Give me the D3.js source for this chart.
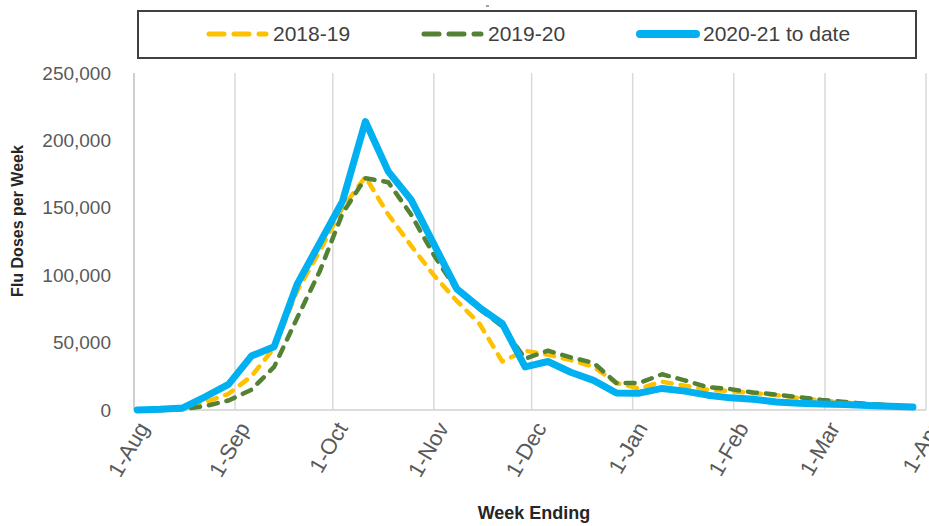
<!DOCTYPE html>
<html>
<head>
<meta charset="utf-8">
<script src="https://cdn.jsdelivr.net/npm/d3@7"></script>
<style>
  html, body { margin: 0; padding: 0; background: #fff; }
  text { font-family: "Liberation Sans", Arial, sans-serif; }
</style>
</head>
<body>
<svg id="chart" width="929" height="526"></svg>
<script>
// ---- data ----
const weeks = ["2020-08-02","2020-08-09","2020-08-16","2020-08-23","2020-08-30","2020-09-06","2020-09-13","2020-09-20","2020-09-27","2020-10-04","2020-10-11","2020-10-18","2020-10-25","2020-11-01","2020-11-08","2020-11-15","2020-11-22","2020-11-29","2020-12-06","2020-12-13","2020-12-20","2020-12-27","2021-01-03","2021-01-10","2021-01-17","2021-01-24","2021-01-31","2021-02-07","2021-02-14","2021-02-21","2021-02-28","2021-03-07","2021-03-14","2021-03-21","2021-03-28"];
const s2018 = [0,0,1000,6000,12000,25000,46000,88000,118000,150000,173000,145000,122000,100000,81000,64000,36000,44000,41000,37000,32000,20000,16000,21000,18000,15000,14000,12500,11000,9000,7000,5500,4500,3500,2500];
const s2019 = [0,0,500,3000,7000,15000,32000,68000,103000,146000,172000,169000,145000,115000,89000,75000,62000,38000,44000,39000,35000,20000,20000,26500,22000,17000,15500,13000,11500,9500,7500,6000,4500,3500,2500];
const s2020 = [0,500,1500,10000,19000,40000,47000,93000,124000,155000,214000,177000,156000,123000,90000,76000,64000,32000,36000,28000,22000,12600,12500,16000,14000,11000,9000,8000,6000,5000,4500,4000,3300,2800,2200];
const seriesNames = ["2018-19","2019-20","2020-21 to date"];
const yTicks = [0,50000,100000,150000,200000,250000];
const xTickDates = ["2020-08-01","2020-09-01","2020-10-01","2020-11-01","2020-12-01","2021-01-01","2021-02-01","2021-03-01","2021-04-01"];
const xTickLabels = ["1-Aug","1-Sep","1-Oct","1-Nov","1-Dec","1-Jan","1-Feb","1-Mar","1-Apr"];

// ---- layout ----
const svg = d3.select("#chart");
const parse = d3.timeParse("%Y-%m-%d");
const L = 134, R = 926, T = 73, B = 410;
const x = d3.scaleTime().domain([parse("2020-08-01"), parse("2021-04-01")]).range([L, R]);
const y = d3.scaleLinear().domain([0, 250000]).range([B, T]);

// vertical gridlines
svg.append("g").selectAll("line").data(xTickDates.slice(1)).join("line")
  .attr("x1", d => x(parse(d))).attr("x2", d => x(parse(d)))
  .attr("y1", T).attr("y2", B)
  .attr("stroke", "#d9d9d9").attr("stroke-width", 1.5);

// axes lines
svg.append("line").attr("x1", L).attr("x2", L).attr("y1", T).attr("y2", B)
  .attr("stroke", "#bfbfbf").attr("stroke-width", 1.5);
svg.append("line").attr("x1", L).attr("x2", R).attr("y1", B).attr("y2", B)
  .attr("stroke", "#d0d0d0").attr("stroke-width", 1.5);

// y tick labels
const fmt = d3.format(",");
svg.append("g").selectAll("text").data(yTicks).join("text")
  .attr("x", 111).attr("y", d => y(d)).attr("dy", "0.35em")
  .attr("text-anchor", "end").attr("font-size", 19).attr("fill", "#595959")
  .text(d => fmt(d));

// x tick labels
svg.append("g").selectAll("text").data(xTickDates).join("text")
  .attr("transform", (d) => `translate(${x(parse(d)) + 9},${424}) rotate(-60)`)
  .attr("text-anchor", "end").attr("dy", "0.35em")
  .attr("font-size", 22).attr("fill", "#595959")
  .text((d, i) => xTickLabels[i]);

// axis titles
svg.append("text").attr("transform", "translate(23,221) rotate(-90)")
  .attr("text-anchor", "middle").attr("font-size", 16).attr("font-weight", "bold")
  .attr("fill", "#262626").text("Flu Doses per Week");
svg.append("text").attr("x", 534).attr("y", 519)
  .attr("text-anchor", "middle").attr("font-size", 18).attr("font-weight", "bold")
  .attr("fill", "#262626").text("Week Ending");

// lines
const dates = weeks.map(parse);
const line = d3.line().x((d, i) => x(dates[i])).y(d => y(d));
const styles = [
  {data: s2018, color: "#ffc000", width: 4.5, dash: "9,9"},
  {data: s2019, color: "#548235", width: 4.5, dash: "9,9"},
  {data: s2020, color: "#00b0f0", width: 7, dash: null}
];
styles.forEach(s => {
  svg.append("path").datum(s.data).attr("d", line)
    .attr("fill", "none").attr("stroke", s.color).attr("stroke-width", s.width)
    .attr("stroke-linejoin", "round").attr("stroke-linecap", "round")
    .attr("stroke-dasharray", s.dash);
});

// legend
svg.append("rect").attr("x", 138).attr("y", 11).attr("width", 778).attr("height", 47)
  .attr("fill", "#fff").attr("stroke", "#404040").attr("stroke-width", 2);
const legendItems = [
  {x0: 209, x1: 266, tx: 273, color: "#ffc000", dash: "15,10", w: 5},
  {x0: 424, x1: 481, tx: 488, color: "#548235", dash: "15,10", w: 5},
  {x0: 640, x1: 696, tx: 703, color: "#00b0f0", dash: null, w: 8}
];
legendItems.forEach((it, i) => {
  svg.append("line").attr("x1", it.x0).attr("x2", it.x1).attr("y1", 34).attr("y2", 34)
    .attr("stroke", it.color).attr("stroke-width", it.w).attr("stroke-linecap", "round")
    .attr("stroke-dasharray", it.dash);
  svg.append("text").attr("x", it.tx).attr("y", 34).attr("dy", "0.35em")
    .attr("font-size", 21).attr("fill", "#404040").text(seriesNames[i]);
});

// tiny mark at top
svg.append("line").attr("x1", 486).attr("x2", 489).attr("y1", 6).attr("y2", 6)
  .attr("stroke", "#808080").attr("stroke-width", 1.5);
</script>
</body>
</html>
